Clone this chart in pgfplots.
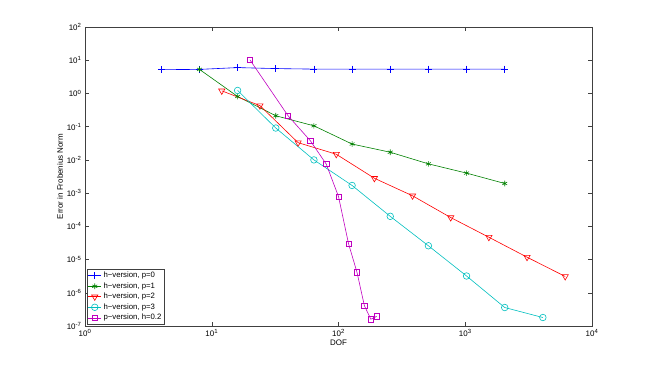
\documentclass[border=0pt]{standalone}
\usepackage{fontspec}
\setmainfont{Liberation Sans}
\usepackage{pgfplots}
\pgfplotsset{compat=1.18}
\definecolor{mblue}{rgb}{0,0,1}
\definecolor{mgreen}{rgb}{0,0.5,0}
\definecolor{mred}{rgb}{1,0,0}
\definecolor{mcyan}{rgb}{0,0.75,0.75}
\definecolor{mmag}{rgb}{0.75,0,0.75}
\begin{document}
\begin{tikzpicture}
\path[use as bounding box] (0,0) rectangle (654bp,367bp);
\begin{axis}[
  at={(85bp,41bp)}, anchor=south west,
  scale only axis, width=507bp, height=299bp,
  xmode=log, ymode=log, log basis x=10, log basis y=10,
  xmin=1, xmax=1e4, ymin=1e-7, ymax=1e2,
  xtickten={0,...,4}, ytickten={-7,...,2},
  xticklabel={10\textsuperscript{\pgfmathprintnumber[assume math mode=true]{\tick}}},
  yticklabel={10\textsuperscript{\pgfmathprintnumber[assume math mode=true]{\tick}}},
  tick label style={font=\fontsize{8}{9}\selectfont},
  label style={font=\fontsize{8}{9}\selectfont},
  xlabel={DOF}, ylabel={Error in Frobenius Norm},
  xlabel style={yshift=4pt}, ylabel style={yshift=-3pt},
  axis line style={black!75, line width=0.5pt},
  tick style={black!75, line width=0.4pt},
  tick align=inside, major tick length=4bp, minor tick length=2bp,
  every tick/.style={black!75},
  legend style={at={(0.003,0.004)}, anchor=south west, draw=black!75,
    font=\fontsize{7.8}{9}\selectfont, inner sep=1.2pt, row sep=-0.6pt,
    line width=0.5pt},
  legend cell align=left,
  legend image code/.code={\draw[mark repeat=2,mark phase=2] plot coordinates {(0bp,0bp) (6.5bp,0bp) (13bp,0bp)};},
  every axis plot/.append style={line width=0.6pt},
]
\addplot[color=mblue, mark=+, mark size=3.5bp] coordinates {
(4,5.2) (8,5.3) (16,6.0) (32,5.6) (64,5.4) (128,5.4) (256,5.4) (512,5.4) (1024,5.4) (2048,5.4)};
\addlegendentry{h−version, p=0}
\addplot[color=mgreen, mark=asterisk, mark size=2.8bp] coordinates {
(8,5.3) (16,0.81) (32,0.213) (64,0.106) (128,0.030) (256,0.017) (512,0.0076) (1024,0.004) (2048,0.00195)};
\addlegendentry{h−version, p=1}
\addplot[color=mred, mark=triangle, mark options={rotate=180}, mark size=3.6bp] coordinates {
(12,1.2) (24,0.43) (48,0.033) (96,0.0148) (192,0.0028) (384,8.3e-4) (768,1.84e-4) (1536,4.7e-5) (3072,1.18e-5) (6144,3.1e-6)};
\addlegendentry{h−version, p=2}
\addplot[color=mcyan, mark=o, mark size=3.3bp] coordinates {
(16,1.23) (32,0.091) (64,0.0100) (128,1.7e-3) (256,2.0e-4) (512,2.6e-5) (1024,3.2e-6) (2048,3.6e-7) (4096,1.8e-7)};
\addlegendentry{h−version, p=3}
\addplot[color=mmag, mark=square, mark size=2.7bp] coordinates {
(20,10.3) (40,0.213) (60,0.0376) (80,0.0075) (100,7.9e-4) (120,3.0e-5) (140,4.1e-6) (160,4.1e-7) (180,1.6e-7) (200,1.95e-7)};
\addlegendentry{p−version, h=0.2}
\end{axis}
\end{tikzpicture}
\end{document}
